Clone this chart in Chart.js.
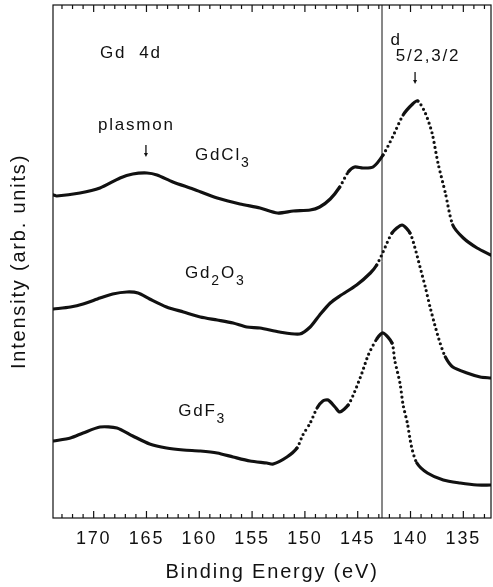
<!DOCTYPE html>
<html>
<head>
<meta charset="utf-8">
<script src="https://cdn.jsdelivr.net/npm/chart.js@4.4.1/dist/chart.umd.min.js"></script>
<style>
html, body { margin: 0; padding: 0; background: #fff; }
canvas { display: block; }
</style>
</head>
<body>
<canvas id="xpsChart" width="493" height="587"></canvas>
<script>
// Gd 4d spectra, binding energy (eV) vs intensity (arb. units)
const energiaGdCl3 = [173.8, 173.5, 171.3, 169.4, 167.5, 166.3, 164.95, 164.0, 162.5, 160.6, 158.3, 156.15, 154.25, 152.6, 151.1, 149.5, 148.6, 147.6, 146.7, 145.9, 145.3, 144.5, 143.55, 142.6, 141.7, 140.7, 139.8, 139.3, 138.6, 137.96, 137.4, 136.7, 136.0, 135.0, 133.7, 132.4];
const intensidadGdCl3 = [323, 322, 325, 330, 340, 344, 345, 343, 336, 329, 320, 314, 310, 305, 307, 308, 311, 319, 331, 346, 351, 350, 351, 363, 381, 403, 414, 417, 405, 385, 355, 325, 293, 280, 270, 263];

const energiaGd2O3 = [173.8, 172.2, 171.0, 169.4, 168.2, 166.85, 165.8, 164.7, 163.1, 161.5, 159.9, 158.3, 156.8, 155.5, 154.25, 152.4, 150.5, 149.5, 148.6, 147.6, 146.7, 145.1, 143.8, 143.2, 142.6, 141.75, 140.8, 140.05, 139.6, 139.1, 138.6, 138.15, 137.7, 137.2, 136.7, 136.0, 134.65, 133.4, 132.4];
const intensidadGd2O3 = [209, 211, 214, 220, 224, 226, 225, 219, 211, 206, 201, 198, 195, 191, 190, 186, 184, 191, 203, 215, 222, 233, 245, 253, 266, 285, 293, 285, 271, 251, 231, 211, 193, 175, 161, 151, 145, 141, 140];

const energiaGdF3 = [173.8, 172.2, 171.0, 169.4, 167.8, 166.3, 164.7, 163.1, 161.5, 159.9, 158.3, 156.8, 155.2, 153.6, 153.0, 151.7, 150.75, 150.2, 149.5, 148.85, 148.3, 147.8, 147.15, 146.7, 145.9, 145.3, 144.6, 144.0, 143.2, 142.6, 141.75, 141.5, 141.0, 140.7, 140.3, 139.9, 139.4, 138.4, 136.9, 135.3, 133.7, 132.4];
const intensidadGdF3 = [77, 80, 85, 91, 90, 82, 74, 70, 68, 67, 65, 61, 57, 55, 54, 61, 70, 83, 95, 110, 117, 118, 111, 106, 113, 126, 145, 163, 179, 185, 175, 158, 135, 113, 95, 71, 55, 45, 38, 35, 33, 33];

const tickEnergias = [170, 165, 160, 155, 150, 145, 140, 135];
const energiaLinea = 142.7; // vertical reference line

const FONT = "'Liberation Sans', Arial, sans-serif";
const INK = '#111';

function puntos(es, vs) {
    return es.map((e, i) => ({ x: e, y: vs[i] }));
}

// steep parts of the curves were recorded as visible dots
function empinado(ctx) {
    const dx = Math.abs(ctx.p1.x - ctx.p0.x);
    const dy = Math.abs(ctx.p1.y - ctx.p0.y);
    return dy > 1.4 * dx ? [0, 5] : undefined;
}

function curva(label, es, vs) {
    return {
        label: label,
        data: puntos(es, vs),
        borderColor: INK,
        borderWidth: 3.2,
        borderCapStyle: 'round',
        borderJoinStyle: 'round',
        pointRadius: 0,
        tension: 0.25,
        segment: { borderDash: empinado }
    };
}

const marcoPlugin = {
    id: 'marco',
    beforeDraw(chart) {
        chart.ctx.letterSpacing = '1.8px';
    },
    afterDraw(chart) {
        const ctx = chart.ctx;
        const a = chart.chartArea;
        const xs = chart.scales.x;
        ctx.save();
        ctx.strokeStyle = INK;
        ctx.lineWidth = 1.2;
        ctx.strokeRect(a.left, a.top, a.right - a.left, a.bottom - a.top);
        // inward ticks, top and bottom
        for (let e = 133; e <= 173; e++) {
            const px = xs.getPixelForValue(e);
            const len = e % 5 === 0 ? 7 : 4;
            ctx.beginPath();
            ctx.moveTo(px, a.bottom);
            ctx.lineTo(px, a.bottom - len);
            ctx.moveTo(px, a.top);
            ctx.lineTo(px, a.top + len);
            ctx.stroke();
        }
        ctx.restore();
    }
};

function texto(ctx, partes, x, y) {
    let cx = x;
    partes.forEach(p => {
        ctx.font = p.size + 'px ' + FONT;
        ctx.fillText(p.t, cx + (p.dx || 0), y + (p.dy || 0));
        cx += ctx.measureText(p.t).width + (p.dx || 0);
    });
}

function flecha(ctx, x, y0, y1) {
    ctx.beginPath();
    ctx.moveTo(x, y0);
    ctx.lineTo(x, y1 - 2);
    ctx.stroke();
    ctx.beginPath();
    ctx.moveTo(x - 2, y1 - 3);
    ctx.lineTo(x + 2, y1 - 3);
    ctx.lineTo(x, y1 + 1);
    ctx.closePath();
    ctx.fill();
}

const etiquetasPlugin = {
    id: 'etiquetas',
    afterDraw(chart) {
        const ctx = chart.ctx;
        const xs = chart.scales.x;
        const ys = chart.scales.y;
        const X = e => xs.getPixelForValue(e);
        const Y = v => ys.getPixelForValue(v);
        ctx.save();
        ctx.fillStyle = INK;
        ctx.strokeStyle = INK;
        ctx.lineWidth = 1.3;
        ctx.textBaseline = 'middle';
        ctx.textAlign = 'left';
        texto(ctx, [{ t: 'Gd  4d', size: 17 }], X(169.4), Y(465));
        texto(ctx, [{ t: 'plasmon', size: 17 }], X(169.6), Y(393));
        flecha(ctx, X(165.05), Y(373), Y(362));
        texto(ctx, [{ t: 'GdCl', size: 17 }, { t: '3', size: 14, dy: 8 }], X(160.4), Y(363));
        texto(ctx, [{ t: 'Gd', size: 17 }, { t: '2', size: 14, dy: 8 }, { t: 'O', size: 17 }, { t: '3', size: 14, dy: 8 }], X(161.35), Y(245));
        texto(ctx, [{ t: 'GdF', size: 17 }, { t: '3', size: 14, dy: 8 }], X(162.0), Y(107));
        texto(ctx, [{ t: 'd', size: 17 }, { t: '5/2,3/2', size: 17, dy: 16, dx: -6 }], X(141.9), Y(478));
        flecha(ctx, X(139.57), Y(446), Y(435));
        ctx.restore();
    }
};

new Chart(document.getElementById('xpsChart'), {
    type: 'line',
    data: {
        datasets: [
            curva('GdCl3', energiaGdCl3, intensidadGdCl3),
            curva('Gd2O3', energiaGd2O3, intensidadGd2O3),
            curva('GdF3', energiaGdF3, intensidadGdF3),
            {
                label: 'ref',
                data: [{ x: energiaLinea, y: 0 }, { x: energiaLinea, y: 513 }],
                borderColor: INK,
                borderWidth: 1,
                pointRadius: 0
            }
        ]
    },
    options: {
        responsive: false,
        animation: false,
        devicePixelRatio: 1,
        layout: { padding: { top: 5, right: 2, left: 0, bottom: 0 } },
        plugins: { legend: { display: false }, tooltip: { enabled: false } },
        scales: {
            x: {
                type: 'linear',
                reverse: true,
                min: 132.38,
                max: 173.85,
                grid: { display: false, drawTicks: false },
                border: { display: false },
                afterBuildTicks: s => { s.ticks = tickEnergias.map(v => ({ value: v })); },
                afterFit: s => { s.height = 69; },
                ticks: { padding: 10, color: INK, font: { family: FONT, size: 18 }, maxRotation: 0, autoSkip: false },
                title: { display: true, text: 'Binding Energy (eV)', color: INK, font: { family: FONT, size: 20 }, padding: { top: 0, bottom: 3 } }
            },
            y: {
                min: 0,
                max: 513,
                grid: { display: false, drawTicks: false },
                border: { display: false },
                ticks: { display: false },
                afterFit: s => { s.width = 53; },
                title: { display: true, text: 'Intensity (arb. units)', color: INK, font: { family: FONT, size: 20 }, padding: { top: 7, bottom: 0 } }
            }
        }
    },
    plugins: [marcoPlugin, etiquetasPlugin]
});
</script>
</body>
</html>
